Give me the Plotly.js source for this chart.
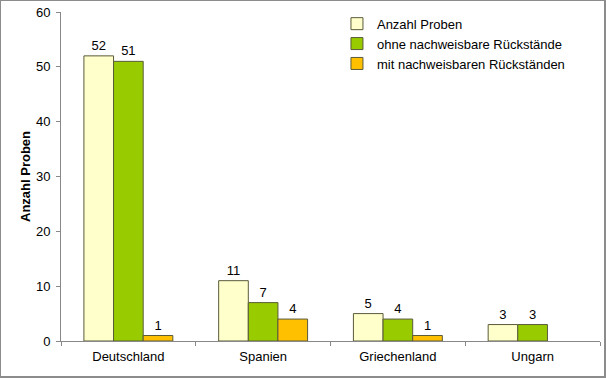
<!DOCTYPE html>
<html><head><meta charset="utf-8">
<script src="https://cdn.plot.ly/plotly-3.0.1.min.js"></script>
<style>
html,body{margin:0;padding:0;background:#fff;}
#c{width:606px;height:378px;box-sizing:border-box;border:1px solid #8c8c8c;border-right-width:2px;border-bottom-width:2px;}
</style></head>
<body><div id="c"></div>
<script>
const categories = ["Deutschland", "Spanien", "Griechenland", "Ungarn"];
const seriesNames = ["Anzahl Proben", "ohne nachweisbare Rückstände", "mit nachweisbaren Rückständen"];
const anzahlProben = [52, 11, 5, 3];
const ohneRueckstaende = [51, 7, 4, 3];
const mitRueckstaenden = [1, 4, 1, 0];
const colors = ["#FFFFCC", "#99CC00", "#FFC000"];

const values = [anzahlProben, ohneRueckstaende, mitRueckstaenden];
const traces = values.map((v, i) => ({
  type: "bar",
  name: seriesNames[i],
  x: categories,
  y: v,
  text: v.map(n => n === 0 ? "" : String(n)),
  textposition: "outside",
  cliponaxis: false,
  textfont: {family: "Liberation Sans, Arial, sans-serif", size: 13, color: "#000"},
  marker: {color: colors[i], line: {color: "#5a5a3a", width: v.map(n => n === 0 ? 0 : 1)}}
}));

const layout = {
  width: 603, height: 375,
  margin: {l: 60, r: 4, t: 11, b: 35},
  paper_bgcolor: "#fff", plot_bgcolor: "#fff",
  font: {family: "Liberation Sans, Arial, sans-serif", size: 13, color: "#000"},
  barmode: "group", bargap: 0.34, bargroupgap: 0,
  showlegend: true,
  legend: {x: 0.512, y: 1.01, xanchor: "left", yanchor: "top", bgcolor: "rgba(0,0,0,0)",
           font: {size: 13}, tracegroupgap: 0, itemwidth: 30},
  xaxis: {showline: true, linecolor: "#888", linewidth: 1, ticks: "outside", tickson: "boundaries",
          ticklen: 4, tickcolor: "#888", showgrid: false, zeroline: false, fixedrange: true,
          ticklabelstandoff: 3},
  yaxis: {range: [0, 60], dtick: 10, showline: true, linecolor: "#888", linewidth: 1,
          ticks: "outside", ticklen: 4, tickcolor: "#888", showgrid: false, zeroline: false,
          ticklabelstandoff: 3,
          title: {text: "<b>Anzahl Proben</b>", font: {size: 13}, standoff: 2}}
};
Plotly.newPlot("c", traces, layout, {displayModeBar: false, staticPlot: true});
</script></body></html>
